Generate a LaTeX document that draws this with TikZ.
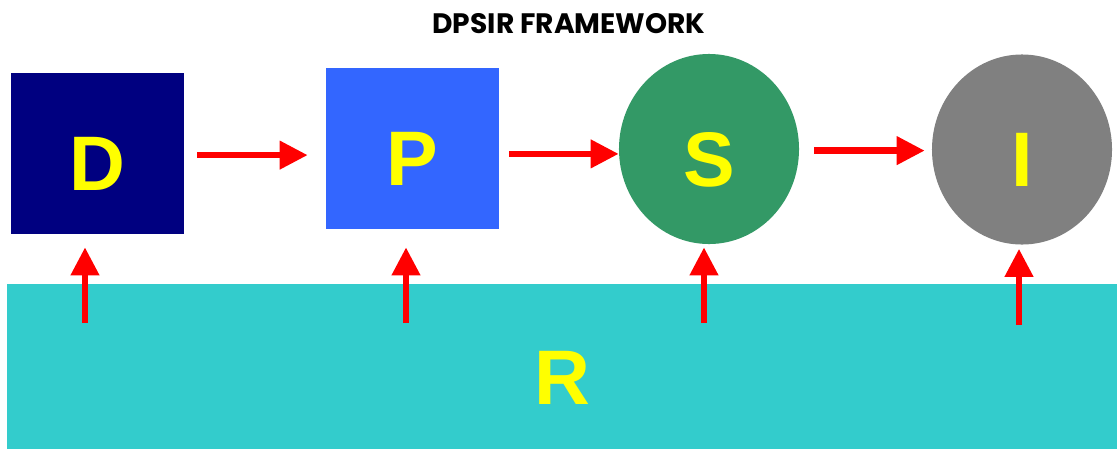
\documentclass[tikz,border=0pt]{standalone}
\usepackage{fontspec}
\setmainfont{Liberation Sans}
\newfontfamily\titlefont{Poppins}
\usetikzlibrary{positioning,arrows.meta,calc,shapes.geometric}
\definecolor{dpsirnavy}{HTML}{000080}
\definecolor{dpsirblue}{HTML}{3366FF}
\definecolor{dpsirgreen}{HTML}{339966}
\definecolor{dpsirgrey}{HTML}{808080}
\definecolor{dpsirteal}{HTML}{33CCCC}
\definecolor{dpsirred}{HTML}{FF0000}
\definecolor{dpsiryellow}{HTML}{FFFF00}

\begin{document}
\begin{tikzpicture}[x=0.025cm, y=-0.025cm,
  letter/.style={text=dpsiryellow, font=\bfseries\fontsize{55}{60}\selectfont, text height=1.85cm, text depth=0pt, inner sep=0pt},
  sq/.style={letter, rectangle, minimum width=4.325cm, minimum height=4.025cm},
  rnd/.style={letter, ellipse, minimum width=4.5cm, minimum height=4.75cm},
  flow/.style={-{Triangle[length=0.7cm, width=0.68cm]}, draw=dpsirred, line width=0.16cm}]
\useasboundingbox[fill=white] (0,0) rectangle (1117,448);
% ===== title =====
\node[font=\titlefont\bfseries\fontsize{20}{24}\selectfont] (title) at (569,24) {DPSIR FRAMEWORK};
% ===== top row =====
\node[sq, fill=dpsirnavy] (D) at (97.5,153.5) {D};
\node[sq, fill=dpsirblue] (P) at (412.5,148.5) {P};
\node[rnd, fill=dpsirgreen] (S) at (709,149) {S};
\node[rnd, fill=dpsirgrey] (I) at (1022,149.5) {I};
% ===== responses =====
\node[letter, fill=dpsirteal, minimum width=27.75cm, minimum height=4.15cm] (R) at (562,367) {R};
\draw[flow, shorten <=0.325cm, shorten >=0.45cm] ([yshift=-0.04cm]D.east) -- ([yshift=-0.04cm]D.east -| P.west);
\draw[flow, shorten <=0.25cm] ([yshift=-0.135cm]P.east) -- ([yshift=-0.135cm]P.east -| S.west);
\draw[flow, shorten <=0.375cm, shorten >=0.175cm] ([yshift=-0.04cm]S.east) -- ([yshift=-0.04cm]S.east -| I.west);
\coordinate (rD) at (85,323);
\coordinate (rP) at (406,323);
\coordinate (rS) at (704,323);
\coordinate (rI) at (1019,325);
\draw[flow, shorten >=0.325cm] (rD) -- (rD |- D.south);
\draw[flow, shorten >=0.45cm] (rP) -- (rP |- P.south);
\draw[flow, shorten >=0.075cm] (rS) -- (rS |- S.south);
\draw[flow, shorten >=0.1cm] (rI) -- (rI |- I.south);
\end{tikzpicture}
\end{document}
